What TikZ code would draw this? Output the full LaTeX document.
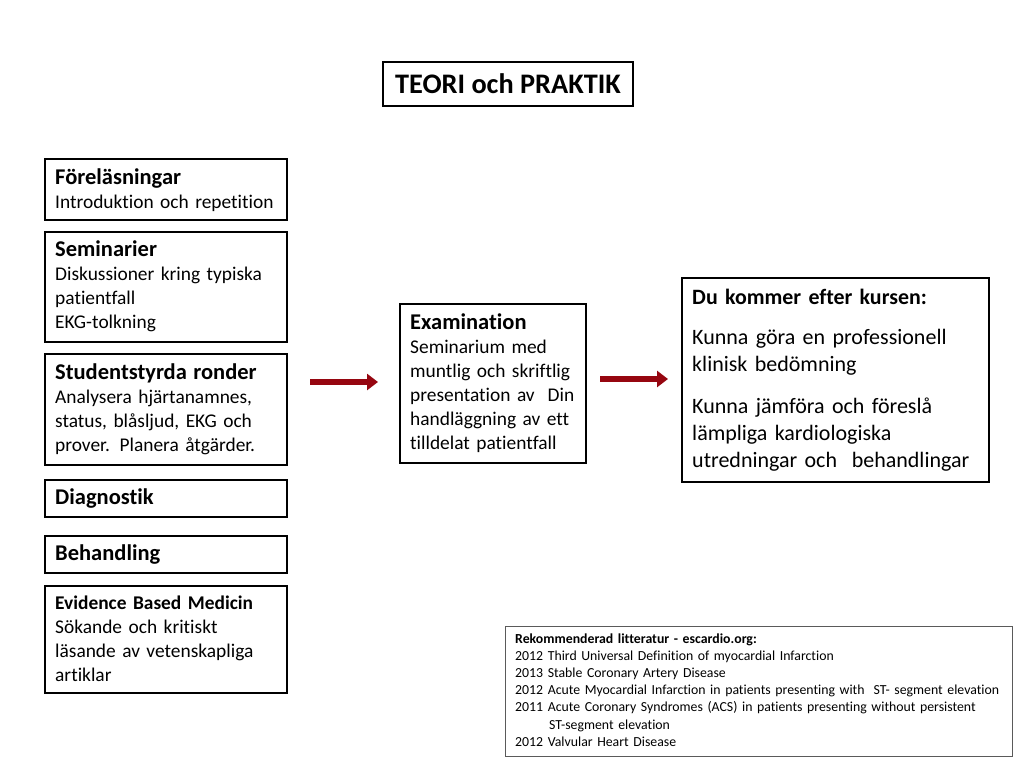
\documentclass[tikz,border=0pt]{standalone}
\usepackage{fontspec}
\setmainfont[Ligatures=NoCommon]{Carlito}
\usetikzlibrary{arrows.meta}
\definecolor{arrowred}{RGB}{150,6,16}
\definecolor{litgray}{RGB}{90,90,90}
\tikzset{
  box/.style={draw=black, line width=2pt, fill=white, inner sep=0pt, anchor=north west},
  litbox/.style={draw=litgray, line width=1.3pt, fill=white, inner sep=0pt, anchor=north west},
  txt/.style={inner sep=0pt, anchor=base west, align=left, font=\fontsize{19.4}{24}\selectfont},
  bigtxt/.style={inner sep=0pt, anchor=base west, align=left, font=\fontsize{22}{27}\selectfont},
  littxt/.style={inner sep=0pt, anchor=base west, align=left, font=\fontsize{13.8}{17.2}\selectfont},
  redarrow/.style={draw=arrowred, line width=6pt, -{Triangle[length=11pt,width=16pt]}},
}
\newcommand{\hd}[1]{{\fontsize{22.5}{24}\selectfont\bfseries #1}}
\begin{document}
\begin{tikzpicture}[x=1pt,y=1pt]
\useasboundingbox[fill=white] (0,0) rectangle (1024,-768);

% title
\node[box, minimum width=250pt, minimum height=44pt, anchor=center,
      font=\fontsize{28.3}{30}\selectfont\bfseries] (title) at (508,-84) {TEORI och PRAKTIK};

% left column
\node[box, minimum width=242pt, minimum height=61pt] (fore) at (44,-158) {};
\node[txt, text width=230pt] (foret) at (55,-184) {\hd{Föreläsningar}\\Introduktion och repetition};

\node[box, minimum width=242pt, minimum height=110pt] (semi) at (44,-231) {};
\node[txt, text width=230pt] (semit) at (55,-256) {\hd{Seminarier}\\Diskussioner kring typiska\\patientfall\\EKG-tolkning};

\node[box, minimum width=242pt, minimum height=111pt] (stud) at (44,-353) {};
\node[txt, text width=230pt] (studt) at (55,-379) {\hd{Studentstyrda ronder}\\Analysera hjärtanamnes,\\status, blåsljud, EKG och\\prover. Planera åtgärder.};

\node[box, minimum width=242pt, minimum height=37pt] (diag) at (44,-479) {};
\node[txt] (diagt) at (55,-504) {\hd{Diagnostik}};

\node[box, minimum width=242pt, minimum height=37pt] (beh) at (44,-535) {};
\node[txt] (beht) at (55,-560) {\hd{Behandling}};

\node[box, minimum width=242pt, minimum height=107pt] (ebm) at (44,-585) {};
\node[txt, text width=230pt] (ebmt) at (55,-609) {{\bfseries Evidence Based Medicin}\\Sökande och kritiskt\\läsande av vetenskapliga\\artiklar};

% examination
\node[box, minimum width=186pt, minimum height=159pt] (exam) at (399,-303) {};
\node[txt, text width=176pt] (examt) at (410,-329) {\hd{Examination}\\Seminarium med\\muntlig och skriftlig\\presentation av\ \ Din\\handläggning av ett\\tilldelat patientfall};

% outcome
\node[box, minimum width=307pt, minimum height=204pt] (du) at (681,-277) {};
\node[bigtxt, text width=296pt] (dut) at (692,-304) {{\fontsize{21.9}{24}\selectfont\bfseries Du kommer efter kursen:}\\[13pt]Kunna göra en professionell\\klinisk bedömning\\[15pt]Kunna jämföra och föreslå\\lämpliga kardiologiska\\utredningar och\ \ behandlingar};

% literature
\node[litbox, minimum width=507pt, minimum height=130pt] (lit) at (505,-626) {};
\node[littxt, text width=500pt] (litt) at (515,-643) {{\bfseries Rekommenderad litteratur - escardio.org:}\\2012 Third Universal Definition of myocardial Infarction\\2013 Stable Coronary Artery Disease\\2012 Acute Myocardial Infarction in patients presenting with\ \ ST- segment elevation\\2011 Acute Coronary Syndromes (ACS) in patients presenting without persistent\\\hspace*{34pt}ST-segment elevation\\2012 Valvular Heart Disease};

% arrows
\coordinate (a1s) at (310,-382);
\coordinate (a1e) at (378,-382);
\coordinate (a2s) at (600,-379);
\coordinate (a2e) at (668,-379);
\draw[redarrow] (a1s) -- (a1e);
\draw[redarrow] (a2s) -- (a2e);
\end{tikzpicture}
\end{document}
